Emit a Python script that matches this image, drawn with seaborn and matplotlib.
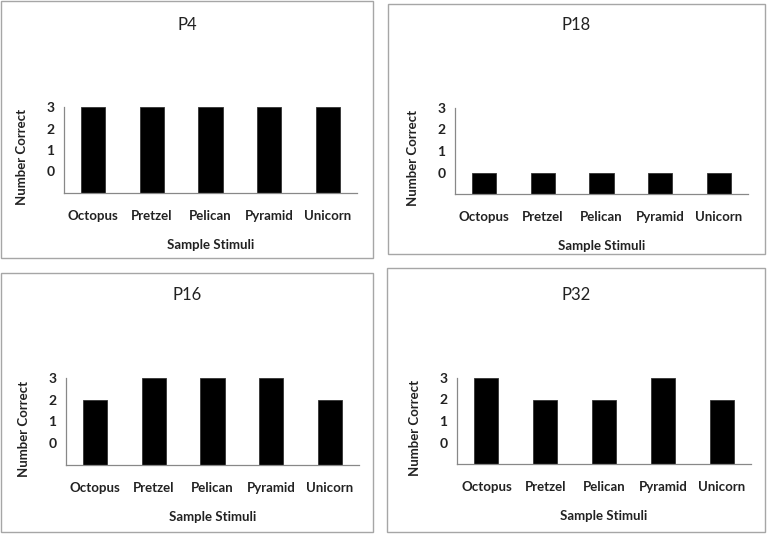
import matplotlib
matplotlib.use("Agg")
import matplotlib.pyplot as plt
import seaborn as sns
from matplotlib.patches import Rectangle

# ------------------------------------------
# Data
# ------------------------------------------

stimuli = ["Octopus", "Pretzel", "Pelican", "Pyramid", "Unicorn"]

p4 = [3, 3, 3, 3, 3]
p18 = [0, 0, 0, 0, 0]
p16 = [2, 3, 3, 3, 2]
p32 = [3, 2, 2, 3, 2]

participants = ["P4", "P18", "P16", "P32"]
scores = [p4, p18, p16, p32]

y_ticks = [-1, 0, 1, 2, 3]
y_labels = ["", "0", "1", "2", "3"]
y_floor = -1

# ------------------------------------------
# Layout (pixels): box and axes for each panel
# ------------------------------------------

W, H = 767, 534
boxes = [(1, 1, 373, 258), (388, 4, 765, 254), (1, 273, 373, 532), (387, 268, 765, 532)]
axes_px = [(64, 107, 357, 193), (455, 108, 748, 194), (66, 378, 359, 465), (457, 378, 751, 464)]
title_y = [25, 25, 295, 295]

sns.set_style("white")
plt.rcParams["font.family"] = ["Lato", "DejaVu Sans"]

fig = plt.figure(figsize=(W / 100, H / 100), dpi=100)

for name, vals, box, apx, ty in zip(participants, scores, boxes, axes_px, title_y):
    bx0, by0, bx1, by1 = box
    fig.add_artist(Rectangle((bx0 / W, 1 - by1 / H), (bx1 - bx0) / W, (by1 - by0) / H,
                             transform=fig.transFigure, fill=False,
                             edgecolor="#a6a6a6", linewidth=1.0))
    fig.text((bx0 + bx1) / 2 / W, 1 - ty / H, name,
             ha="center", va="center", fontsize=12, color="#222222")

    l, t, r, b = apx
    ax = fig.add_axes([l / W, 1 - b / H, (r - l) / W, (b - t) / H])

    sns.barplot(
        x=stimuli,
        y=[v - y_floor for v in vals],
        bottom=y_floor,
        color="black",
        width=0.41,
        edgecolor="#333333",
        linewidth=0.6,
        ax=ax
    )

    ax.set_xlim(-0.5, len(stimuli) - 0.5)
    ax.set_ylim(y_floor, 3)
    ax.set_yticks(y_ticks)
    ax.set_yticklabels(y_labels, fontweight="bold", fontsize=10)
    ax.set_xticks(range(len(stimuli)))
    ax.set_xticklabels(stimuli, fontweight="bold", fontsize=9.5)
    ax.set_xticks([i - 0.5 for i in range(len(stimuli) + 1)], minor=True)

    ax.tick_params(axis="x", which="major", length=0, pad=12, colors="#222222")
    ax.tick_params(axis="x", which="minor", length=4, direction="out", color="#888888")
    ax.tick_params(axis="y", length=4, direction="out", pad=3, color="#888888", labelcolor="#222222")

    for side in ["top", "right"]:
        ax.spines[side].set_visible(False)
    for side in ["left", "bottom"]:
        ax.spines[side].set_color("#888888")
        ax.spines[side].set_linewidth(0.9)

    ax.set_xlabel("Sample Stimuli", fontweight="bold", fontsize=9.5, color="#222222")
    ax.xaxis.set_label_coords(0.5, -0.60)
    ax.xaxis.label.set_va("center")
    ax.set_ylabel("Number Correct", fontweight="bold", fontsize=9.5, color="#222222")
    ax.yaxis.set_label_coords(-0.143, 0.42)
    ax.yaxis.label.set_va("center")

plt.savefig("out.png", dpi=100)
